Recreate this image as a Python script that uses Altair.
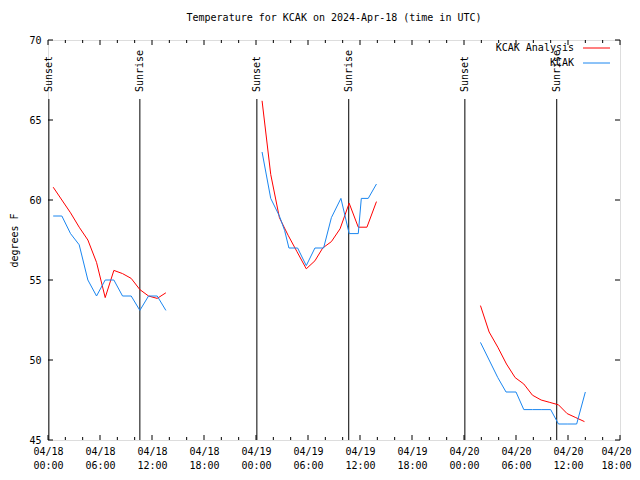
import altair as alt
import pandas as pd

FONT = "DejaVu Sans Mono"
TITLE = "Temperature for KCAK on 2024-Apr-18 (time in UTC)"
Y_TITLE = "degrees F"
SERIES = ["KCAK Analysis", "KCAK"]
COLORS = ["#ff0000", "#1a86f0"]

X_DOMAIN = [0, 66]
Y_DOMAIN = [45, 70]
x_tick_hours = [0, 6, 12, 18, 24, 30, 36, 42, 48, 54, 60, 66]
x_tick_dates = ["04/18", "04/18", "04/18", "04/18", "04/19", "04/19",
                "04/19", "04/19", "04/20", "04/20", "04/20", "04/20"]
x_tick_times = ["00:00", "06:00", "12:00", "18:00", "00:00", "06:00",
                "12:00", "18:00", "00:00", "06:00", "12:00", "18:00"]
x_minor_hours = [h for h in range(0, 67, 2) if h % 6]
y_ticks = [45, 50, 55, 60, 65, 70]

sun_events = ["Sunset", "Sunrise", "Sunset", "Sunrise", "Sunset", "Sunrise"]
sun_hours = [0.1, 10.6, 24.1, 34.7, 48.1, 58.7]

# KCAK Analysis (red)
ana_hours_1 = [0.6, 1.6, 2.6, 3.6, 4.6, 5.6, 6.6, 7.6, 8.6, 9.6, 10.6, 11.6, 12.6, 13.6]
ana_temps_1 = [60.8, 60.0, 59.2, 58.3, 57.5, 56.1, 53.9, 55.6, 55.4, 55.1, 54.4, 54.0, 53.85, 54.2]
ana_hours_2 = [24.7, 25.7, 26.7, 27.7, 28.7, 29.8, 30.8, 31.7, 32.7, 33.7, 34.75, 35.8, 36.8, 37.9]
ana_temps_2 = [66.2, 61.6, 58.9, 57.8, 56.8, 55.7, 56.2, 57.0, 57.4, 58.2, 59.8, 58.3, 58.3, 59.9]
ana_hours_3 = [49.9, 50.9, 51.9, 52.9, 53.9, 54.9, 55.9, 56.9, 57.9, 58.9, 59.9, 60.9, 61.9]
ana_temps_3 = [53.4, 51.75, 50.8, 49.75, 48.9, 48.5, 47.8, 47.5, 47.35, 47.2, 46.65, 46.4, 46.15]

# KCAK observations (blue)
obs_hours_1 = [0.6, 1.6, 2.6, 3.6, 4.6, 5.6, 6.6, 7.6, 8.6, 9.6, 10.6, 11.6, 12.6, 13.6]
obs_temps_1 = [59.0, 59.0, 57.9, 57.2, 55.0, 54.0, 55.0, 55.0, 54.0, 54.0, 53.1, 54.0, 54.0, 53.1]
obs_hours_2 = [24.7, 25.7, 26.7, 27.3, 27.8, 28.8, 29.8, 30.8, 31.8, 32.7, 33.8, 34.75, 35.8, 36.15, 36.95, 37.9]
obs_temps_2 = [63.0, 60.1, 59.0, 58.1, 57.0, 57.0, 55.9, 57.0, 57.0, 58.9, 60.1, 57.9, 57.9, 60.1, 60.1, 61.0]
obs_hours_3 = [49.9, 50.9, 51.9, 52.85, 54.0, 54.9, 55.9, 56.9, 58.0, 58.9, 59.9, 61.0, 62.0]
obs_temps_3 = [51.1, 50.0, 48.9, 48.0, 48.0, 46.9, 46.9, 46.9, 46.9, 46.0, 46.0, 46.0, 48.0]

rows = []
for series, segs in [
    (SERIES[0], [(ana_hours_1, ana_temps_1), (ana_hours_2, ana_temps_2), (ana_hours_3, ana_temps_3)]),
    (SERIES[1], [(obs_hours_1, obs_temps_1), (obs_hours_2, obs_temps_2), (obs_hours_3, obs_temps_3)]),
]:
    for i, (hs, ts) in enumerate(segs):
        for h, t in zip(hs, ts):
            rows.append({"series": series, "seg": f"{series}-{i}", "hour": h, "temp": t})
df = pd.DataFrame(rows)

sun_df = pd.DataFrame({"event": sun_events, "hour": sun_hours})
xmaj_df = pd.DataFrame({"hour": x_tick_hours})
xmin_df = pd.DataFrame({"hour": x_minor_hours})
y_df = pd.DataFrame({"temp": y_ticks})

W, H = 572, 400

label_expr = "[" + ",".join(f"['{d}','{t}']" for d, t in zip(x_tick_dates, x_tick_times)) + "][round(datum.value/6)]"
last_tick = X_DOMAIN[1]

xs = alt.Scale(domain=X_DOMAIN, nice=False, zero=False)
ys = alt.Scale(domain=Y_DOMAIN, nice=False, zero=False)
x_axis = alt.Axis(values=x_tick_hours, labelExpr=label_expr, ticks=False, domain=False,
                  grid=False, title=None, labelFont=FONT, labelFontSize=10, labelColor="black",
                  labelPadding=6, labelLineHeight=14, labelFlush=False, labelOverlap=False,
                  labelAlign={"condition": {"test": f"datum.value == {last_tick}", "value": "right"},
                              "value": "center"},
                  labelOffset={"condition": {"test": f"datum.value == {last_tick}", "value": 11},
                               "value": 0})
y_axis = alt.Axis(values=y_ticks, ticks=False, domain=False, grid=False, title=Y_TITLE,
                  labelFont=FONT, labelFontSize=10, labelColor="black", labelPadding=7,
                  titleFont=FONT, titleFontSize=10, titleFontWeight="normal", titleColor="black",
                  titleX=-34, titleY=H / 2, titleAngle=270, titleAlign="center",
                  titleBaseline="middle")

X = alt.X("hour:Q", scale=xs, axis=x_axis)
Y = alt.Y("temp:Q", scale=ys, axis=y_axis)

lines = alt.Chart(df).mark_line(strokeWidth=1).encode(
    x=X, y=Y,
    color=alt.Color("series:N", scale=alt.Scale(domain=SERIES, range=COLORS), legend=None),
    detail="seg:N",
    order="hour:Q",
)

sun_rules = alt.Chart(sun_df).mark_rule(color="black", strokeWidth=1).encode(
    x=X, y=alt.value(59), y2=alt.value(H)
)
sun_text = alt.Chart(sun_df).mark_text(
    angle=270, align="left", baseline="middle", font=FONT, fontSize=10, color="black"
).encode(x=X, y=alt.value(52), text="event:N")

xmaj_bot = alt.Chart(xmaj_df).mark_rule(color="black").encode(x=X, y=alt.value(H), y2=alt.value(H - 5))
xmaj_top = alt.Chart(xmaj_df).mark_rule(color="black").encode(x=X, y=alt.value(0), y2=alt.value(5))
xmin_bot = alt.Chart(xmin_df).mark_rule(color="black").encode(x=X, y=alt.value(H), y2=alt.value(H - 3))
xmin_top = alt.Chart(xmin_df).mark_rule(color="black").encode(x=X, y=alt.value(0), y2=alt.value(3))
y_left = alt.Chart(y_df).mark_rule(color="black").encode(y=Y, x=alt.value(0), x2=alt.value(5))
y_right = alt.Chart(y_df).mark_rule(color="black").encode(y=Y, x=alt.value(W), x2=alt.value(W - 5))

legend_layers = []
for i, (name, col) in enumerate(zip(SERIES, COLORS)):
    ly = 8 + 15 * i
    legend_layers.append(
        alt.Chart(pd.DataFrame({"label": [name]})).mark_text(
            align="right", baseline="middle", font=FONT, fontSize=10, color="black"
        ).encode(text="label:N", x=alt.value(526), y=alt.value(ly))
    )
    legend_layers.append(
        alt.Chart(pd.DataFrame({"label": [name]})).mark_rule(color=col, strokeWidth=1).encode(
            x=alt.value(535), x2=alt.value(562), y=alt.value(ly)
        )
    )

chart = alt.layer(
    sun_rules, sun_text, lines, xmaj_bot, xmaj_top, xmin_bot, xmin_top, y_left, y_right,
    *legend_layers
).properties(
    width=W, height=H,
    autosize="none",
    padding={"left": 40, "top": 32, "right": 12, "bottom": 31},
    title=alt.TitleParams(TITLE, font=FONT, fontSize=10, fontWeight="normal", anchor="middle",
                          color="black", offset=12, baseline="bottom", dy=10),
).configure_view(stroke="black", strokeWidth=1).configure(background="white")

chart.save("out.html", embed_options={"renderer": "svg", "actions": False})
